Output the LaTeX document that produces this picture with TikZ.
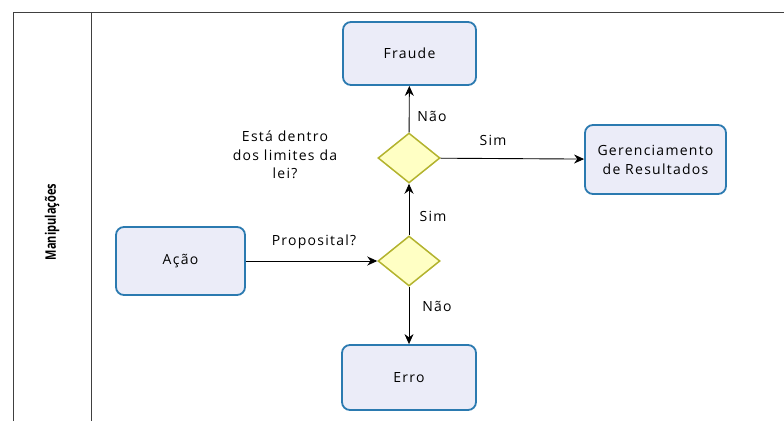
\documentclass[tikz,border=0pt]{standalone}
\usepackage{fontspec}
\setmainfont{Open Sans}
\newfontfamily\diagfont[LetterSpace=9]{Open Sans}
\usetikzlibrary{shapes.geometric,arrows.meta}
\definecolor{boxfill}{HTML}{EBECF8}
\definecolor{boxline}{HTML}{2B7AB0}
\definecolor{gwfill}{HTML}{FFFFC4}
\definecolor{gwline}{HTML}{B3B32E}
\tikzset{
  task/.style={draw=boxline, fill=boxfill, line width=1.8pt, rounded corners=8pt,
    minimum width=#1, inner sep=0pt, align=center, font=\diagfont\fontsize{14}{19}\selectfont},
  gw/.style={draw=gwline, fill=gwfill, line width=1.5pt, diamond, minimum width=62pt,
    minimum height=50pt, inner sep=0pt, aspect=1.24},
  flow/.style={-{Stealth[length=10pt,width=9pt]}, line width=0.9pt, black},
  lbl/.style={font=\diagfont\fontsize{14}{18.5}\selectfont, align=center, inner sep=0pt},
  lane/.style={line width=1pt, draw=black!75}
}
\begin{document}
\begin{tikzpicture}[x=1pt,y=-1pt]
\useasboundingbox (0,0) rectangle (784,421);
% pool frame
\draw[lane] (13,421) -- (13,12) -- (784,12);
\draw[lane] (91,12) -- (91,421);
\node[rotate=90, font=\bfseries\fontsize{14.5}{16}\selectfont] (title) at (52,222) {\scalebox{0.76}[1]{Manipulações}};
% nodes
\node[task=133pt, minimum height=63pt] (fraude) at (409.5,53.5) {Fraude};
\node[gw] (g1) at (409,158) {};
\node[task=141pt, minimum height=69pt] (ger) at (655.5,159.5) {Gerenciamento\\de Resultados};
\node[task=129pt, minimum height=68pt] (acao) at (180.5,261) {Ação};
\node[gw] (g2) at (409,261) {};
\node[task=134pt, minimum height=65pt] (erro) at (409,377.5) {Erro};
% connectors
\draw[flow] (acao) -- (g2);
\draw[flow] (g2) -- (g1);
\draw[flow] (g2) -- (erro);
\draw[flow] (g1) -- (fraude);
\draw[flow] (g1) -- (ger);
% labels
\node[lbl] (l1) at (432,116) {Não};
\node[lbl] (l2) at (285,155) {Está dentro\\dos limites da\\lei?};
\node[lbl] (l3) at (493,140) {Sim};
\node[lbl] (l4) at (433,216) {Sim};
\node[lbl] (l5) at (314,242) {Proposital?};
\node[lbl] (l6) at (437,306) {Não};
\end{tikzpicture}
\end{document}
